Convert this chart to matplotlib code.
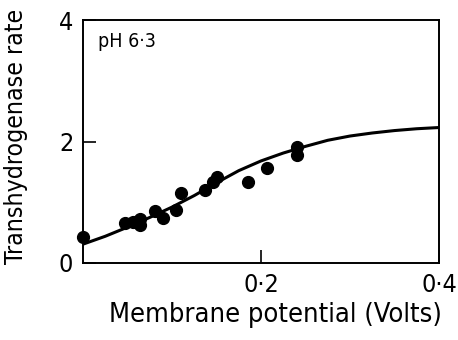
import numpy as np
import matplotlib
matplotlib.use("Agg")
import matplotlib.pyplot as plt

# measured points (membrane potential in V, transhydrogenase rate)
pot_x = [0.000, 0.047, 0.056, 0.064, 0.064, 0.081, 0.090, 0.105, 0.110,
         0.137, 0.146, 0.150, 0.185, 0.207, 0.240, 0.240]
rate_y = [0.43, 0.66, 0.68, 0.72, 0.63, 0.86, 0.74, 0.87, 1.15,
          1.20, 1.33, 1.42, 1.33, 1.56, 1.91, 1.78]

# fitted curve
curve_x = [0.000, 0.025, 0.050, 0.075, 0.100, 0.125, 0.150, 0.175, 0.200,
           0.225, 0.250, 0.275, 0.300, 0.325, 0.350, 0.375, 0.400]
curve_y = [0.31, 0.44, 0.59, 0.75, 0.92, 1.11, 1.32, 1.52, 1.68,
           1.81, 1.92, 2.02, 2.09, 2.14, 2.18, 2.21, 2.23]

xticks = [0.2, 0.4]
xtick_labels = ["0\u00b72", "0\u00b74"]
yticks = [0, 2, 4]
ytick_labels = ["0", "2", "4"]

plt.rcParams['font.family'] = ['DejaVu Sans']
plt.rcParams['font.stretch'] = 'condensed'

fig = plt.figure(figsize=(4.58, 3.4), dpi=100)
ax = fig.add_axes([83 / 458, 1 - 263 / 340, 356 / 458, 243 / 340])

ax.plot(curve_x, curve_y, color="black", lw=2.2, solid_capstyle="round")
ax.plot(pot_x, rate_y, "o", color="black", ms=8.5, clip_on=False)

ax.set_xlim(0, 0.4)
ax.set_ylim(0, 4)
ax.set_xticks(xticks)
ax.set_xticklabels(xtick_labels)
ax.set_yticks(yticks)
ax.set_yticklabels(ytick_labels)
ax.tick_params(direction="in", length=9.5, width=1.2, labelsize=18, pad=7)

for s in ax.spines.values():
    s.set_linewidth(1.4)

ax.set_xlabel("Membrane potential (Volts)", fontsize=19.5)
ax.xaxis.set_label_coords(0.54, -0.16)
ax.set_ylabel("Transhydrogenase rate", fontsize=17.8)
ax.yaxis.set_label_coords(-0.155, 0.52)

ax.text(0.042, 0.95, "pH 6\u00b73", transform=ax.transAxes,
        fontsize=14, va="top", ha="left")

fig.savefig("out.png", dpi=100)
